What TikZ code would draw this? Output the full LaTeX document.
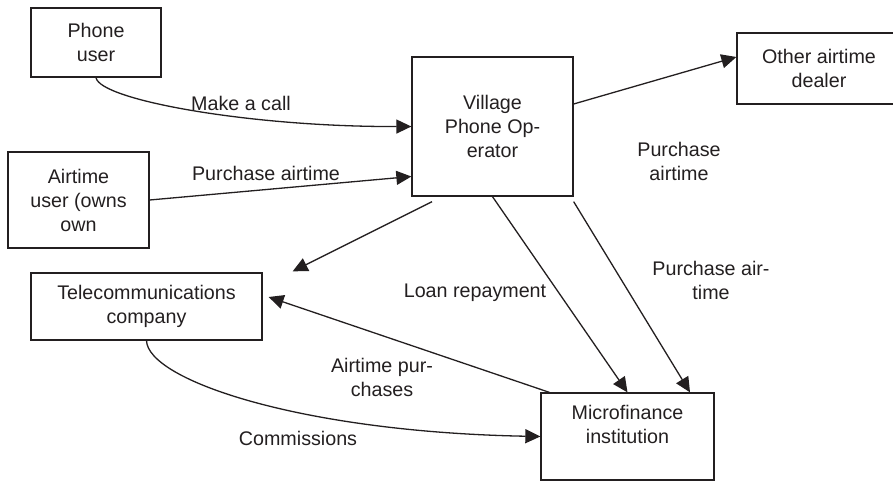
\documentclass[tikz,border=0pt]{standalone}
\usepackage{fontspec}
\setmainfont{Liberation Sans}
\usetikzlibrary{arrows.meta}
\definecolor{ink}{HTML}{231F20}
\tikzset{
	box/.style={draw,rectangle,align=center,inner sep=0pt},
	flow/.style={-{Triangle[length=15pt,width=14pt]}},
	lbl/.style={align=center,inner sep=0pt},
}
\begin{document}
\begin{tikzpicture}[x=1pt,y=-1pt,line width=1.3pt,color=ink,
	every node/.style={font=\fontsize{19.7}{24}\selectfont,text=ink}]
	\useasboundingbox (0,0) rectangle (893,481);
	\node[box,minimum width=130pt,minimum height=69pt] (phone) at (96,42.5) {Phone\\user};
	\node[box,minimum width=141pt,minimum height=96pt] (airuser) at (78.5,200) {Airtime\\user (owns\\own};
	\node[box,minimum width=231pt,minimum height=67pt] (telecom) at (146.5,306.5) {Telecommunications\\company};
	\node[box,minimum width=161pt,minimum height=139pt] (vpo) at (492.5,126.5) {Village\\Phone Op-\\erator};
	\node[box,minimum width=164pt,minimum height=71pt] (dealer) at (819,68.5) {Other airtime\\dealer};
	\node[box,minimum width=173pt,minimum height=87pt] (mfi) at (627.5,436.5) {Microfinance\\institution\\~};
	\draw[flow] (phone.south) .. controls (100,100) and (250,127) .. (vpo.west);
	\draw[flow] (airuser.east) -- ([yshift=-50pt]vpo.west);
	\draw[flow] ([yshift=22.5pt]vpo.east) -- ([yshift=11.5pt]dealer.west);
	\draw[flow] ([xshift=-60.5pt,yshift=-5pt]vpo.south) -- ([xshift=30pt,yshift=1pt]telecom.north east);
	\draw[flow] (vpo.south) -- (mfi.north);
	\draw[flow] ([yshift=-5pt]vpo.south east) -- ([xshift=62.5pt]mfi.north);
	\draw[flow] ([xshift=9pt]mfi.north west) -- ([xshift=6pt,yshift=9.5pt]telecom.east);
%	commissions go round below
	\draw[flow] (telecom.south) .. controls (148,380) and (300,432) .. (mfi.west);
	\node[lbl] (lcall) at (241,103) {Make a call};
	\node[lbl] (lbuy) at (266,173) {Purchase airtime};
	\node[lbl] (ldeal) at (679,161) {Purchase\\airtime};
	\node[lbl] (lloan) at (475,293) {Loan repayment};
	\node[lbl] (lbuymfi) at (711,280) {Purchase air-\\time};
	\node[lbl] (lpurch) at (382,377) {Airtime pur-\\chases};
	\node[lbl] (lcomm) at (298,438) {Commissions};
\end{tikzpicture}
\end{document}
